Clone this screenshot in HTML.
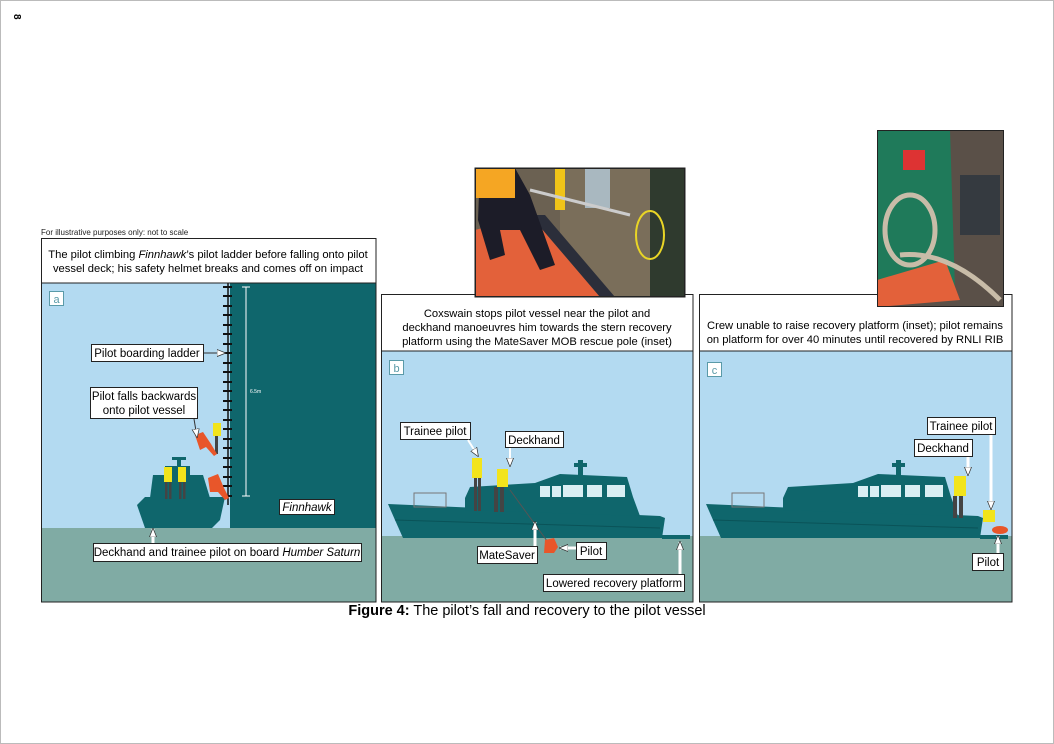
<!DOCTYPE html>
<html><head><meta charset="utf-8"><style>
html,body{margin:0;padding:0;background:#fff}
svg{display:block;font-family:"Liberation Sans",sans-serif}
</style></head><body>
<svg width="1054" height="744" viewBox="0 0 1054 744" xmlns="http://www.w3.org/2000/svg">
<defs>
<g id="boat">
  <polygon points="388,504 660,516 665,518 662,538 403,538 395,520" fill="#0f666c"/>
  <polygon points="465,498 470,487 535,483 560,474 627,477 633,497 640,516 465,510" fill="#0f666c"/>
  <rect x="578" y="460" width="5" height="26" fill="#0f666c"/>
  <rect x="574" y="463" width="13" height="4" fill="#0f666c"/>
  <rect x="540" y="486" width="10" height="11" fill="#d9eef3"/>
  <rect x="552" y="486" width="9" height="11" fill="#d9eef3"/>
  <rect x="563" y="485" width="20" height="12" fill="#d9eef3"/>
  <rect x="587" y="485" width="15" height="12" fill="#d9eef3"/>
  <rect x="607" y="485" width="18" height="12" fill="#d9eef3"/>
  <rect x="414" y="493" width="32" height="14" fill="none" stroke="#777" stroke-width="1"/>
  <line x1="395" y1="520" x2="660" y2="528" stroke="#0a5358" stroke-width="1"/>
  <rect x="662" y="535" width="28" height="4" fill="#0f666c"/>
</g>
<marker id="ah" viewBox="0 0 10 10" refX="9" refY="5" markerUnits="userSpaceOnUse" markerWidth="9" markerHeight="9" orient="auto"><path d="M0,1 L10,5 L0,9z" fill="#fff" stroke="#333" stroke-width="0.8"/></marker>
</defs>
<rect x="0.5" y="0.5" width="1053" height="743" fill="#fff" stroke="#bbb"/>
<text x="11" y="17" font-size="10" font-weight="bold" transform="rotate(90 14 17)">8</text>
<text x="41" y="235" font-size="8" fill="#222">For illustrative purposes only: not to scale</text>

<!-- Panel a -->
<rect x="41" y="283" width="335" height="245" fill="#b3daf1"/>
<rect x="41" y="528" width="335" height="74" fill="#80aba4"/>
<rect x="230" y="283" width="146" height="245" fill="#0f666c"/>
<line x1="228" y1="283" x2="228" y2="505" stroke="#111" stroke-width="1.5"/>
<g stroke="#111" stroke-width="2">
<path d="M223 287h9M223 296h9M223 306h9M223 315h9M223 325h9M223 334h9M223 344h9M223 353h9M223 363h9M223 372h9M223 382h9M223 391h9M223 401h9M223 410h9M223 420h9M223 429h9M223 439h9M223 448h9M223 458h9M223 467h9M223 477h9M223 486h9M223 496h9"/>
</g>
<g stroke="#fff" stroke-width="1"><path d="M246 287v209M242 287h8M242 496h8"/></g>
<text x="250" y="393" font-size="5" fill="#fff">6.5m</text>
<polygon points="137,505 145,497 225,497 220,520 212,528 145,528" fill="#0f666c"/>
<polygon points="150,498 153,475 203,475 210,498" fill="#0f666c"/>
<rect x="165" y="466" width="25" height="10" fill="#0f666c"/>
<rect x="172" y="457" width="14" height="3" fill="#0f666c"/>
<rect x="177" y="458" width="4" height="10" fill="#0f666c"/>
<g fill="#f2e41c"><rect x="164" y="467" width="8" height="15"/><rect x="178" y="467" width="8" height="15"/><rect x="213" y="423" width="8" height="13"/></g>
<g fill="#444"><rect x="165" y="482" width="2.5" height="17"/><rect x="169" y="482" width="2.5" height="17"/><rect x="179" y="482" width="2.5" height="17"/><rect x="183" y="482" width="2.5" height="17"/><rect x="215" y="436" width="3" height="18"/></g>
<g fill="#e8562a"><path d="M195 435l8 -3 8 12 6 10 -3 2 -8 -9 -6 3z"/><path d="M208 478l10 -4 6 14 5 10 -4 2 -7 -8 -8 0z"/></g>
<rect x="41" y="238" width="335" height="45" fill="#fff"/>
<rect x="41.5" y="238.5" width="334.5" height="363.5" fill="none" stroke="#222" stroke-width="1"/>
<line x1="41" y1="283" x2="376" y2="283" stroke="#222"/>
<text font-size="11.2" text-anchor="middle"><tspan x="208" y="258">The pilot climbing <tspan font-style="italic">Finnhawk</tspan>’s pilot ladder before falling onto pilot</tspan><tspan x="208" y="272">vessel deck; his safety helmet breaks and comes off on impact</tspan></text>
<rect x="49.5" y="291.5" width="14" height="14" fill="#fff" stroke="#5a9aa8"/>
<text x="56.5" y="303" font-size="11" text-anchor="middle" fill="#5a9aa8">a</text>
<rect x="91.5" y="344.5" width="112" height="17" fill="#fff" stroke="#222"/>
<text x="147" y="357" font-size="11.5" text-anchor="middle">Pilot boarding ladder</text>
<line x1="204" y1="353" x2="225" y2="353" stroke="#333" marker-end="url(#ah)"/>
<rect x="90.5" y="387.5" width="107" height="31" fill="#fff" stroke="#222"/>
<text font-size="11.5" text-anchor="middle"><tspan x="144" y="400">Pilot falls backwards</tspan><tspan x="144" y="414">onto pilot vessel</tspan></text>
<line x1="194" y1="419" x2="197" y2="437" stroke="#333" marker-end="url(#ah)"/>
<rect x="279.5" y="499.5" width="55" height="15" fill="#fff" stroke="#222"/>
<text x="307" y="511" font-size="11.5" text-anchor="middle" font-style="italic">Finnhawk</text>
<rect x="93.5" y="543.5" width="268" height="18" fill="#fff" stroke="#222"/>
<text x="227" y="556" font-size="11.5" text-anchor="middle">Deckhand and trainee pilot on board <tspan font-style="italic">Humber Saturn</tspan></text>
<line x1="153" y1="543" x2="153" y2="529" stroke="#fff" stroke-width="3" marker-end="url(#ah)"/>

<!-- Panel b -->
<rect x="381" y="351" width="312" height="185" fill="#b3daf1"/>
<rect x="381" y="536" width="312" height="66" fill="#80aba4"/>
<use href="#boat"/>
<g fill="#f2e41c"><rect x="472" y="458" width="10" height="20"/><rect x="497" y="469" width="11" height="18"/></g>
<g fill="#444"><rect x="474" y="478" width="3" height="33"/><rect x="478" y="478" width="3" height="33"/><rect x="494" y="487" width="4" height="25"/><rect x="500" y="487" width="4" height="25"/></g>
<line x1="510" y1="490" x2="550" y2="545" stroke="#555" stroke-width="1"/>
<path d="M545 540l9 -2 4 9 -4 6 -10 0z" fill="#e8562a"/>
<rect x="381" y="294" width="312" height="57" fill="#fff"/>
<rect x="381.5" y="294.5" width="311.5" height="307.5" fill="none" stroke="#222"/>
<line x1="381" y1="351" x2="693" y2="351" stroke="#222"/>
<text font-size="11.2" text-anchor="middle"><tspan x="537" y="317">Coxswain stops pilot vessel near the pilot and</tspan><tspan x="537" y="331">deckhand manoeuvres him towards the stern recovery</tspan><tspan x="537" y="345">platform using the MateSaver MOB rescue pole (inset)</tspan></text>
<rect x="389.5" y="360.5" width="14" height="14" fill="#fff" stroke="#5a9aa8"/>
<text x="396.5" y="372" font-size="11" text-anchor="middle" fill="#5a9aa8">b</text>
<rect x="400.5" y="422.5" width="70" height="17" fill="#fff" stroke="#222"/>
<text x="435" y="435" font-size="11.5" text-anchor="middle">Trainee pilot</text>
<line x1="468" y1="440" x2="478" y2="456" stroke="#fff" stroke-width="2" marker-end="url(#ah)"/>
<rect x="505.5" y="431.5" width="58" height="16" fill="#fff" stroke="#222"/>
<text x="534" y="444" font-size="11.5" text-anchor="middle">Deckhand</text>
<line x1="510" y1="448" x2="510" y2="466" stroke="#fff" stroke-width="2" marker-end="url(#ah)"/>
<rect x="477.5" y="546.5" width="60" height="17" fill="#fff" stroke="#222"/>
<text x="507" y="559" font-size="11.5" text-anchor="middle">MateSaver</text>
<line x1="535" y1="546" x2="535" y2="522" stroke="#fff" stroke-width="3" marker-end="url(#ah)"/>
<rect x="576.5" y="542.5" width="30" height="17" fill="#fff" stroke="#222"/>
<text x="591" y="555" font-size="11.5" text-anchor="middle">Pilot</text>
<line x1="576" y1="548" x2="560" y2="548" stroke="#fff" stroke-width="3" marker-end="url(#ah)"/>
<rect x="543.5" y="574.5" width="141" height="17" fill="#fff" stroke="#222"/>
<text x="614" y="587" font-size="11.5" text-anchor="middle">Lowered recovery platform</text>
<line x1="680" y1="574" x2="680" y2="542" stroke="#fff" stroke-width="3" marker-end="url(#ah)"/>

<!-- Panel c -->
<rect x="699" y="351" width="313" height="185" fill="#b3daf1"/>
<rect x="699" y="536" width="313" height="66" fill="#80aba4"/>
<use href="#boat" transform="translate(318,0)"/>
<g fill="#f2e41c"><rect x="954" y="476" width="12" height="20"/><rect x="983" y="510" width="12" height="12"/></g>
<g fill="#444"><rect x="953" y="496" width="4" height="22"/><rect x="959" y="496" width="4" height="22"/></g>
<ellipse cx="1000" cy="530" rx="8" ry="4" fill="#e8562a"/>
<rect x="699" y="294" width="313" height="57" fill="#fff"/>
<rect x="699.5" y="294.5" width="312.5" height="307.5" fill="none" stroke="#222"/>
<line x1="699" y1="351" x2="1012" y2="351" stroke="#222"/>
<text font-size="11.2" text-anchor="middle"><tspan x="855" y="329">Crew unable to raise recovery platform (inset); pilot remains</tspan><tspan x="855" y="343">on platform for over 40 minutes until recovered by RNLI RIB</tspan></text>
<rect x="707.5" y="362.5" width="14" height="14" fill="#fff" stroke="#5a9aa8"/>
<text x="714.5" y="374" font-size="11" text-anchor="middle" fill="#5a9aa8">c</text>
<rect x="927.5" y="417.5" width="68" height="17" fill="#fff" stroke="#222"/>
<text x="961" y="430" font-size="11.5" text-anchor="middle">Trainee pilot</text>
<line x1="991" y1="435" x2="991" y2="509" stroke="#fff" stroke-width="3" marker-end="url(#ah)"/>
<rect x="914.5" y="439.5" width="58" height="17" fill="#fff" stroke="#222"/>
<text x="943" y="452" font-size="11.5" text-anchor="middle">Deckhand</text>
<line x1="968" y1="457" x2="968" y2="475" stroke="#fff" stroke-width="3" marker-end="url(#ah)"/>
<rect x="972.5" y="553.5" width="31" height="17" fill="#fff" stroke="#222"/>
<text x="988" y="566" font-size="11.5" text-anchor="middle">Pilot</text>
<line x1="998" y1="553" x2="998" y2="536" stroke="#fff" stroke-width="3" marker-end="url(#ah)"/>

<!-- Photo b -->
<g>
<rect x="475" y="168" width="210" height="129" fill="#6b6152" stroke="#222"/>
<rect x="560" y="168" width="125" height="129" fill="#7a6e5a"/>
<rect x="650" y="168" width="35" height="129" fill="#2f3a2e"/>
<rect x="585" y="168" width="25" height="40" fill="#a9b8c0"/>
<rect x="555" y="168" width="10" height="42" fill="#f0c419"/>
<polygon points="475,230 530,215 600,297 475,297" fill="#e3613a"/>
<polygon points="530,215 545,215 615,297 600,297" fill="#2b2e3a"/>
<polygon points="480,168 515,168 530,195 555,265 540,270 520,230 500,230 505,255 490,260 478,220" fill="#1c1c28"/>
<rect x="475" y="168" width="40" height="30" fill="#f5a623"/>
<line x1="530" y1="190" x2="630" y2="215" stroke="#ccc" stroke-width="3"/>
<ellipse cx="650" cy="235" rx="14" ry="24" fill="none" stroke="#e9d526" stroke-width="2"/>
<rect x="475.5" y="168.5" width="209" height="128" fill="none" stroke="#222"/>
</g>
<!-- Photo c -->
<g>
<rect x="877" y="130" width="127" height="177" fill="#5a5048"/>
<polygon points="877,130 950,130 955,290 877,290" fill="#1f7a5a"/>
<rect x="960" y="175" width="40" height="60" fill="#353a40"/>
<polygon points="877,280 945,260 960,300 877,307" fill="#e3613a"/>
<ellipse cx="910" cy="230" rx="25" ry="35" fill="none" stroke="#c8bca8" stroke-width="5"/>
<rect x="903" y="150" width="22" height="20" fill="#d33"/>
<path d="M900 255 Q950 250 1000 300" stroke="#c8bca8" stroke-width="5" fill="none"/>
<rect x="877.5" y="130.5" width="126" height="176" fill="none" stroke="#222"/>
</g>

<text x="527" y="615" font-size="14.5" text-anchor="middle"><tspan font-weight="bold">Figure 4:</tspan> The pilot’s fall and recovery to the pilot vessel</text>
</svg>
</body></html>
